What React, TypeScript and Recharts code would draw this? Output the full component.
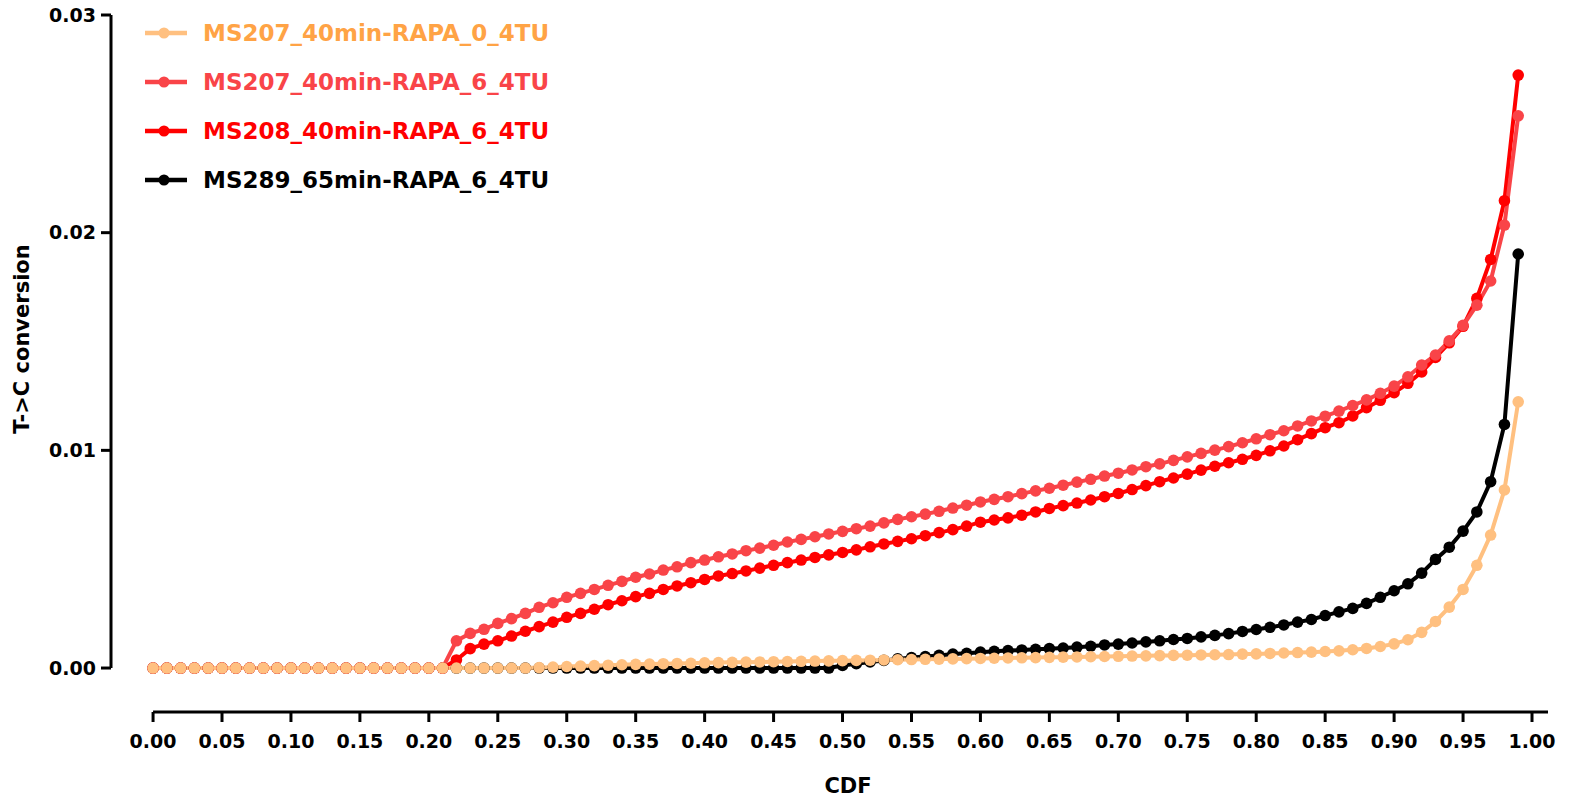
import React from 'react';
import { LineChart, Line, XAxis, YAxis, ReferenceLine, Legend } from 'recharts';

const cdf = [
  0.0, 0.01, 0.02, 0.03, 0.04, 0.05, 0.06, 0.07, 0.08, 0.09,
  0.1, 0.11, 0.12, 0.13, 0.14, 0.15, 0.16, 0.17, 0.18, 0.19,
  0.2, 0.21, 0.22, 0.23, 0.24, 0.25, 0.26, 0.27, 0.28, 0.29,
  0.3, 0.31, 0.32, 0.33, 0.34, 0.35, 0.36, 0.37, 0.38, 0.39,
  0.4, 0.41, 0.42, 0.43, 0.44, 0.45, 0.46, 0.47, 0.48, 0.49,
  0.5, 0.51, 0.52, 0.53, 0.54, 0.55, 0.56, 0.57, 0.58, 0.59,
  0.6, 0.61, 0.62, 0.63, 0.64, 0.65, 0.66, 0.67, 0.68, 0.69,
  0.7, 0.71, 0.72, 0.73, 0.74, 0.75, 0.76, 0.77, 0.78, 0.79,
  0.8, 0.81, 0.82, 0.83, 0.84, 0.85, 0.86, 0.87, 0.88, 0.89,
  0.9, 0.91, 0.92, 0.93, 0.94, 0.95, 0.96, 0.97, 0.98, 0.99,
];

const ms207_0 = [
  0, 0, 0, 0, 0, 0, 0, 0, 0, 0,
  0, 0, 0, 0, 0, 0, 0, 0, 0, 0,
  0, 0, 0, 0, 0, 0, 0, 0, 0.00002, 0.00004,
  0.00007, 0.00009, 0.00011, 0.00013, 0.00015, 0.00017, 0.00018, 0.0002, 0.00021, 0.00022,
  0.00024, 0.00025, 0.00026, 0.00027, 0.00028, 0.00029, 0.0003, 0.00031, 0.00032, 0.00033,
  0.00034, 0.00035, 0.00036, 0.00037, 0.00038, 0.00039, 0.0004, 0.00041, 0.00042, 0.00043,
  0.00044, 0.00045, 0.00046, 0.00047, 0.00048, 0.00049, 0.0005, 0.00051, 0.00052, 0.00053,
  0.00054, 0.00055, 0.00056, 0.00057, 0.00058, 0.00059, 0.0006, 0.00061, 0.00062, 0.00064,
  0.00065, 0.00067, 0.00069, 0.00071, 0.00073, 0.00076, 0.00079, 0.00084, 0.0009, 0.00099,
  0.00111, 0.0013, 0.00164, 0.00214, 0.0028, 0.00361, 0.00472, 0.00611, 0.00818, 0.01223,
];

const ms207_6 = [
  0, 0, 0, 0, 0, 0, 0, 0, 0, 0,
  0, 0, 0, 0, 0, 0, 0, 0, 0, 0,
  0, 0, 0.00125, 0.00159, 0.00178, 0.00205, 0.00227, 0.00251, 0.00279, 0.003,
  0.00325, 0.00343, 0.00361, 0.0038, 0.00398, 0.00417, 0.00432, 0.0045, 0.00465, 0.00484,
  0.00496, 0.00511, 0.00524, 0.00539, 0.00551, 0.00564, 0.00579, 0.00591, 0.00603, 0.00616,
  0.00628, 0.0064, 0.00652, 0.00667, 0.00683, 0.00695, 0.00707, 0.0072, 0.00735, 0.00748,
  0.00763, 0.00775, 0.00787, 0.00801, 0.00814, 0.00826, 0.0084, 0.00854, 0.00867, 0.00882,
  0.00895, 0.0091, 0.00925, 0.00938, 0.00954, 0.0097, 0.00986, 0.01001, 0.01017, 0.01035,
  0.01053, 0.01072, 0.0109, 0.01112, 0.01135, 0.01157, 0.0118, 0.01206, 0.01232, 0.01262,
  0.01295, 0.01338, 0.01392, 0.01438, 0.01503, 0.01574, 0.01667, 0.01778, 0.02035, 0.02537,
];

const ms208_6 = [
  0, 0, 0, 0, 0, 0, 0, 0, 0, 0,
  0, 0, 0, 0, 0, 0, 0, 0, 0, 0,
  0, 0, 0.00037, 0.00089, 0.0011, 0.00125, 0.00147, 0.00169, 0.0019, 0.00211,
  0.00233, 0.00251, 0.0027, 0.00291, 0.00309, 0.00328, 0.00343, 0.00361, 0.00377, 0.00392,
  0.00407, 0.00423, 0.00434, 0.00446, 0.00459, 0.00472, 0.00484, 0.00496, 0.00508, 0.0052,
  0.00531, 0.00543, 0.00557, 0.0057, 0.00582, 0.00594, 0.00608, 0.00622, 0.00636, 0.00652,
  0.0067, 0.0068, 0.0069, 0.00702, 0.00717, 0.00733, 0.00746, 0.00758, 0.00772, 0.00787,
  0.00802, 0.0082, 0.00838, 0.00856, 0.00873, 0.00891, 0.00909, 0.00927, 0.00943, 0.00959,
  0.00977, 0.00998, 0.0102, 0.01049, 0.01077, 0.01104, 0.01127, 0.01158, 0.01196, 0.0123,
  0.01265, 0.01308, 0.0136, 0.01427, 0.01494, 0.0157, 0.01698, 0.01877, 0.02147, 0.02724,
];

const ms289_6 = [
  0, 0, 0, 0, 0, 0, 0, 0, 0, 0,
  0, 0, 0, 0, 0, 0, 0, 0, 0, 0,
  0, 0, 0, 0, 0, 0, 0, 0, 0, 0,
  0, 0, 0, 0, 0, 0, 0, 0, 0, 0,
  0, 0, 0, 0, 0, 0, 0, 0, 0, 0,
  0.00012, 0.0002, 0.00028, 0.00035, 0.00042, 0.00048, 0.00053, 0.00058, 0.00064, 0.00068,
  0.00073, 0.00077, 0.0008, 0.00083, 0.00086, 0.00089, 0.00092, 0.00096, 0.001, 0.00106,
  0.0011, 0.00115, 0.0012, 0.00125, 0.00131, 0.00136, 0.00143, 0.0015, 0.00158, 0.00168,
  0.00177, 0.00187, 0.00198, 0.00211, 0.00223, 0.00241, 0.00258, 0.00274, 0.00297, 0.00325,
  0.00355, 0.00387, 0.00436, 0.00499, 0.00555, 0.00629, 0.00717, 0.00856, 0.01119, 0.01902,
];

const xTicks = [0, 0.05, 0.1, 0.15, 0.2, 0.25, 0.3, 0.35, 0.4, 0.45, 0.5, 0.55, 0.6, 0.65, 0.7, 0.75, 0.8, 0.85, 0.9, 0.95, 1.0];
const yTicks = [0, 0.01, 0.02, 0.03];

const seriesNames = ['MS207_40min-RAPA_0_4TU', 'MS207_40min-RAPA_6_4TU', 'MS208_40min-RAPA_6_4TU', 'MS289_65min-RAPA_6_4TU'];
const seriesKeys = ['a', 'b', 'c', 'd'];
const lineColors = ['#FFC080', '#F94448', '#FF0000', '#000000'];
const textColors = ['#FFA345', '#F94448', '#FF0000', '#000000'];

const data = cdf.map((x, i) => ({ x, a: ms207_0[i], b: ms207_6[i], c: ms208_6[i], d: ms289_6[i] }));

const X_MIN = -0.0305;
const X_MAX = 1.0116;
const Y_MIN = -0.00202;
const Y_MAX = 0.03;

const FONT = '"DejaVu Sans", sans-serif';
const tickStyle = { fontFamily: FONT, fontWeight: 'bold', fontSize: 19, fill: '#000' };

const renderLegend = () => (
  <div style={{ position: 'relative', width: 430, height: 200, fontFamily: FONT, fontWeight: 'bold', fontSize: 23 }}>
    {seriesNames.map((name, i) => (
      <div key={name} style={{ position: 'absolute', left: 0, top: i * 49, height: 40, display: 'flex', alignItems: 'center', whiteSpace: 'nowrap' }}>
        <svg width={44} height={14} style={{ display: 'block' }}>
          <line x1={0} y1={7} x2={42} y2={7} stroke={lineColors[i]} strokeWidth={4.5} />
          <circle cx={19} cy={7} r={5.5} fill={lineColors[i]} />
        </svg>
        <span style={{ marginLeft: 14, color: textColors[i], lineHeight: '40px' }}>{name}</span>
      </div>
    ))}
  </div>
);

const drawOrder = [3, 2, 1, 0];

export default function App() {
  return (
    <div style={{ position: 'absolute', left: 0, top: 0, width: 1571, height: 802, background: '#fff' }}>
      <LineChart width={1571} height={802} data={data} margin={{ top: 15, right: 23, bottom: 0, left: 10 }}>
        <XAxis
          type="number"
          dataKey="x"
          domain={[X_MIN, X_MAX]}
          allowDataOverflow
          ticks={xTicks}
          interval={0}
          tickFormatter={(v: number) => v.toFixed(2)}
          axisLine={false}
          tickLine={{ stroke: '#000', strokeWidth: 3 }}
          tickSize={10}
          tickMargin={13}
          height={90}
          tick={tickStyle}
          label={{
            content: () => (
              <text x={848} y={786} textAnchor="middle" dominantBaseline="central" style={{ fontFamily: FONT, fontWeight: 'bold', fontSize: 21, fill: '#000' }}>
                CDF
              </text>
            ),
          }}
        />
        <YAxis
          type="number"
          domain={[Y_MIN, Y_MAX]}
          allowDataOverflow
          ticks={yTicks}
          interval={0}
          tickFormatter={(v: number) => v.toFixed(2)}
          axisLine={false}
          tickLine={{ stroke: '#000', strokeWidth: 3 }}
          tickSize={10}
          tickMargin={5}
          width={101}
          tick={tickStyle}
          label={{
            content: () => (
              <text x={22} y={339} transform="rotate(-90, 22, 339)" textAnchor="middle" dominantBaseline="central" style={{ fontFamily: FONT, fontWeight: 'bold', fontSize: 21, fill: '#000' }}>
                {'T->C conversion'}
              </text>
            ),
          }}
        />
        <ReferenceLine segment={[{ x: 0, y: Y_MIN }, { x: X_MAX, y: Y_MIN }]} stroke="#000" strokeWidth={3} ifOverflow="visible" />
        <ReferenceLine segment={[{ x: X_MIN, y: 0 }, { x: X_MIN, y: Y_MAX }]} stroke="#000" strokeWidth={3} ifOverflow="visible" />
        {drawOrder.map((i) => (
          <Line
            key={seriesKeys[i]}
            type="linear"
            dataKey={seriesKeys[i]}
            name={seriesNames[i]}
            stroke={lineColors[i]}
            strokeWidth={4}
            dot={{ r: 5.8, fill: lineColors[i], stroke: 'none' }}
            activeDot={false}
            isAnimationActive={false}
          />
        ))}
        <Legend
          layout="vertical"
          align="center"
          verticalAlign="middle"
          content={renderLegend}
          wrapperStyle={{ position: 'absolute', left: 145, top: 13, width: 430, height: 200 }}
        />
      </LineChart>
    </div>
  );
}
